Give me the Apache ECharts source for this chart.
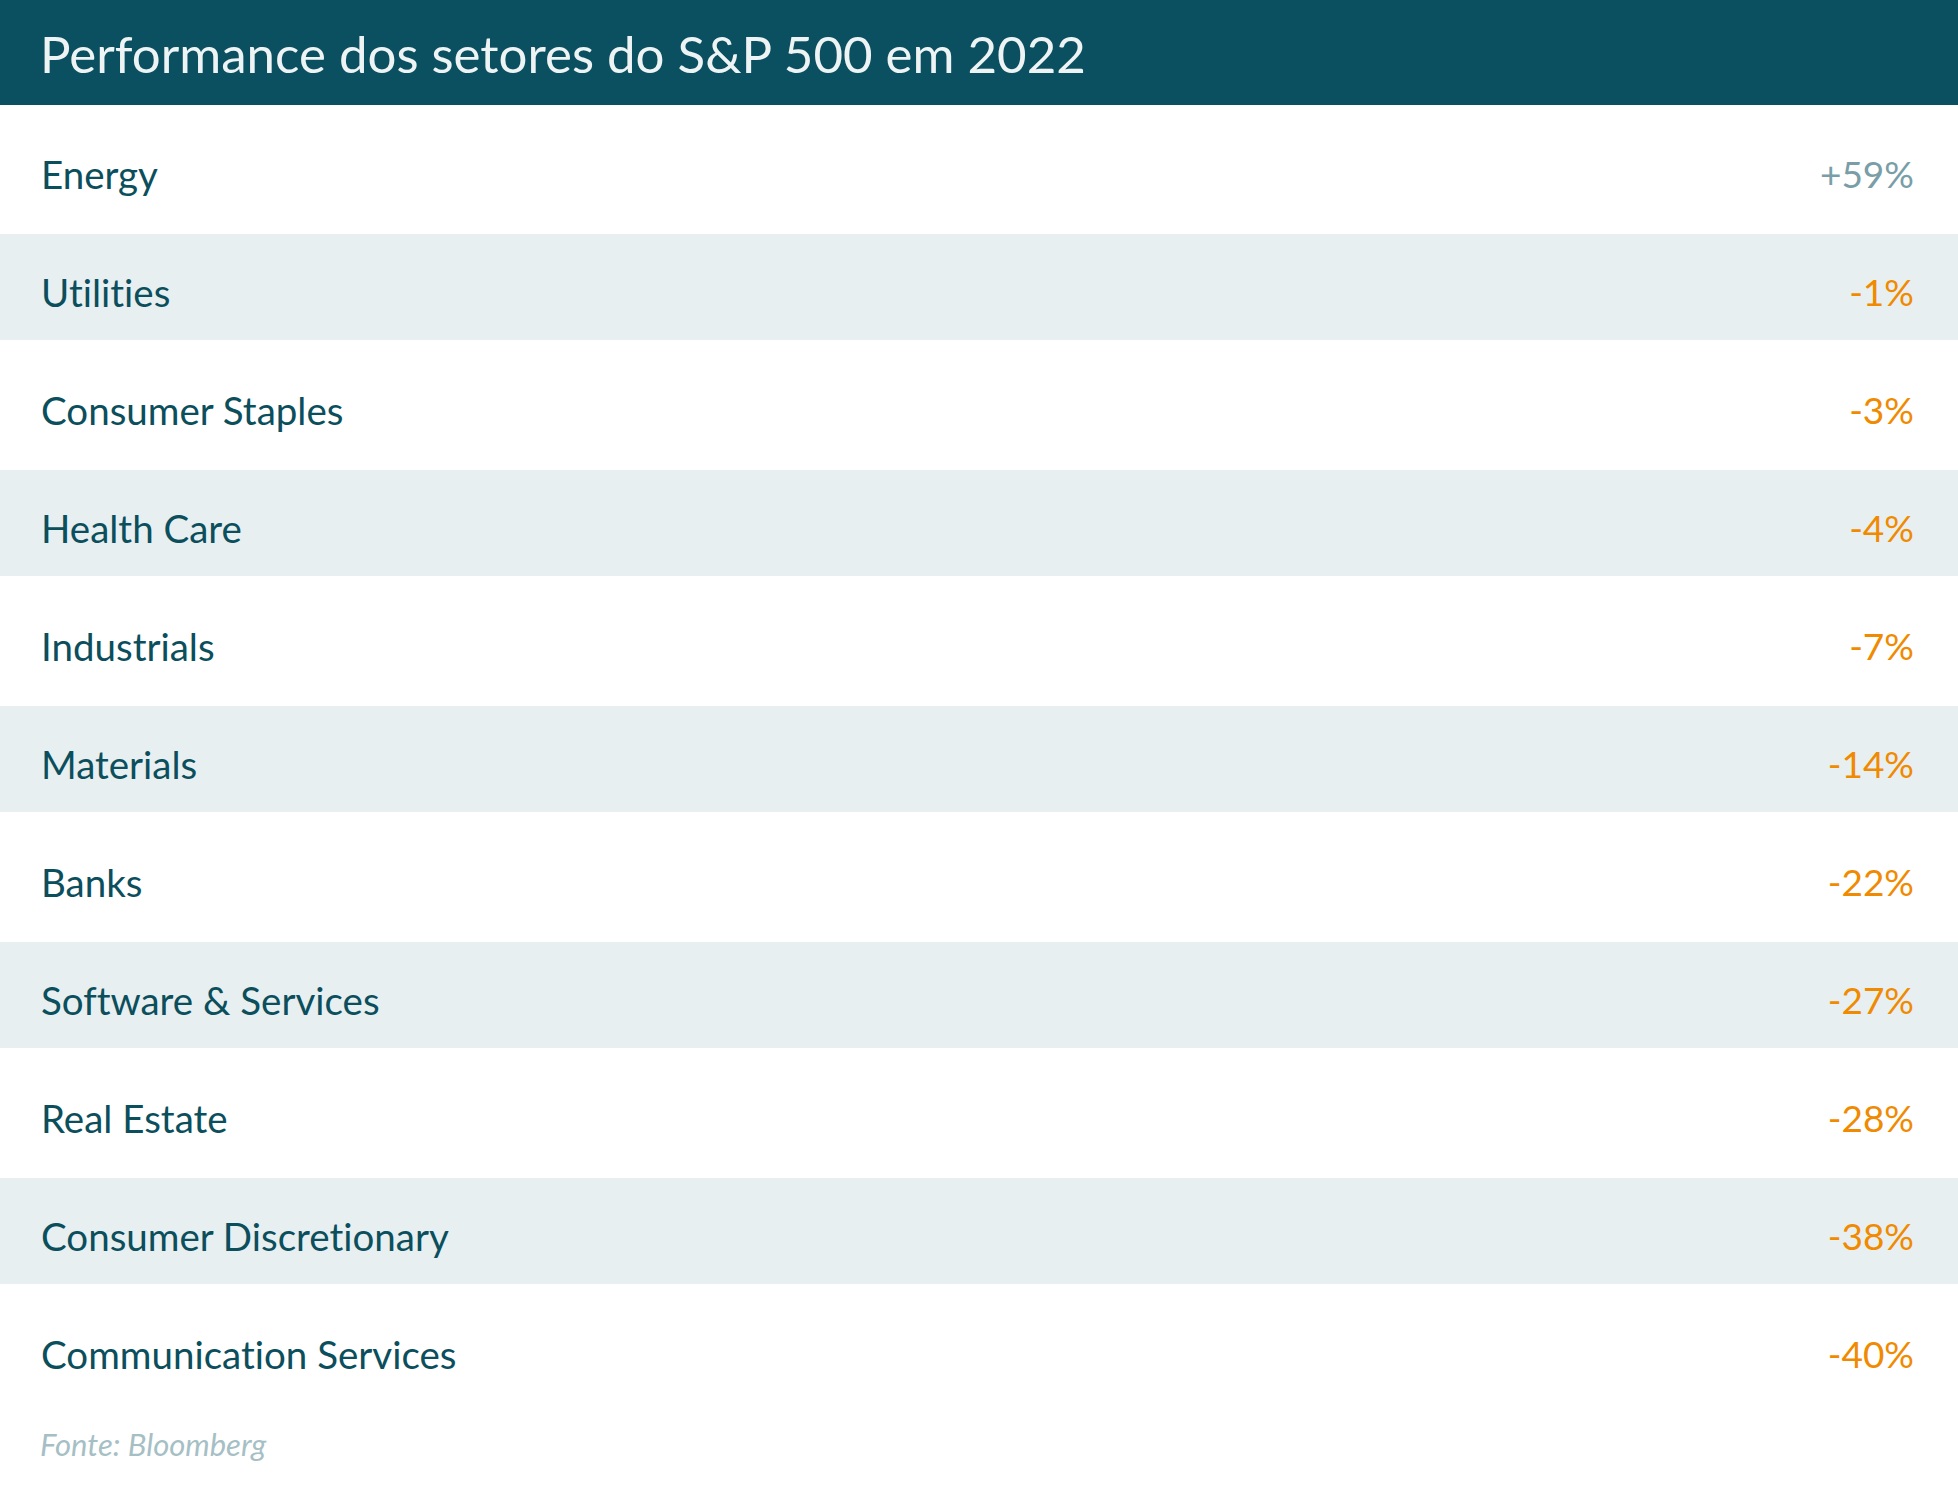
<!DOCTYPE html>
<html>
<head>
<meta charset="utf-8">
<title>Performance dos setores do S&amp;P 500 em 2022</title>
<script src="https://cdn.jsdelivr.net/npm/echarts@6/dist/echarts.min.js"></script>
<style>
    html, body { margin: 0; padding: 0; background: #fff; }
    #chart { width: 1958px; height: 1496px; }
    /* Lato would otherwise join "ti" */
    #chart text { font-variant-ligatures: none; }
</style>
</head>
<body>
<div id="chart"></div>
<script>
// Dados
const sectors = ['Energy', 'Utilities', 'Consumer Staples', 'Health Care', 'Industrials', 'Materials',
    'Banks', 'Software & Services', 'Real Estate', 'Consumer Discretionary', 'Communication Services'];
const performance = [59, -1, -3, -4, -7, -14, -22, -27, -28, -38, -40];
const titleText = 'Performance dos setores do S&P 500 em 2022';
const sourceText = 'Fonte: Bloomberg';

document.addEventListener('DOMContentLoaded', function () {
    const chart = echarts.init(document.getElementById('chart'), null, { renderer: 'svg' });

    const FONT = 'Lato';
    const HEADER_H = 105;
    const LABEL_SHIFT = [9, 0, 0, 0]; // nudge labels a bit below row centre

    // alternate rows get the grey band
    const bands = sectors.map((s, i) => (i % 2 === 1 ? 1 : '-'));

    function fmtValue(v) {
        return (v > 0 ? '+' : '') + v + '%';
    }

    const option = {
        backgroundColor: '#ffffff',
        animation: false,
        title: [
            {
                text: titleText,
                left: 35,
                top: 23,
                textStyle: { fontFamily: FONT, fontSize: 51, fontWeight: 400, color: '#eef3f4' }
            },
            {
                text: sourceText,
                left: 35,
                top: 1423,
                textStyle: { fontFamily: FONT, fontSize: 31, fontWeight: 400, fontStyle: 'italic', color: '#a6bfc5' }
            }
        ],
        graphic: [
            {
                type: 'rect',
                z: -1,
                shape: { x: 0, y: 0, width: 1958, height: HEADER_H },
                style: { fill: '#0a5060' }
            }
        ],
        grid: { left: 0, right: 0, top: HEADER_H + 5, bottom: 88 },
        xAxis: { type: 'value', min: 0, max: 1, show: false },
        yAxis: [
            {
                type: 'category',
                inverse: true,
                z: 10,
                data: sectors,
                axisLine: { show: false },
                axisTick: { show: false },
                splitLine: { show: false },
                axisLabel: {
                    inside: true,
                    interval: 0,
                    margin: 41,
                    formatter: function (val) {
                        return '{n|' + val + '}';
                    },
                    rich: {
                        n: { fontFamily: FONT, fontSize: 38.5, color: '#0b4e5c', padding: LABEL_SHIFT }
                    }
                }
            },
            {
                type: 'category',
                inverse: true,
                position: 'right',
                z: 10,
                data: performance.map(fmtValue),
                axisLine: { show: false },
                axisTick: { show: false },
                splitLine: { show: false },
                axisLabel: {
                    inside: true,
                    interval: 0,
                    margin: 44,
                    formatter: function (val) {
                        return val.charAt(0) === '+' ? '{pos|' + val + '}' : '{neg|' + val + '}';
                    },
                    rich: {
                        pos: { fontFamily: FONT, fontSize: 37, color: '#799ea7', padding: LABEL_SHIFT },
                        neg: { fontFamily: FONT, fontSize: 37, color: '#f08a00', padding: LABEL_SHIFT }
                    }
                }
            }
        ],
        series: [
            {
                type: 'bar',
                z: 1,
                data: bands,
                barWidth: 106,
                silent: true,
                itemStyle: { color: '#e8eff1' }
            }
        ]
    };

    chart.setOption(option);
    window.addEventListener('resize', function () { chart.resize(); });
});
</script>
</body>
</html>
